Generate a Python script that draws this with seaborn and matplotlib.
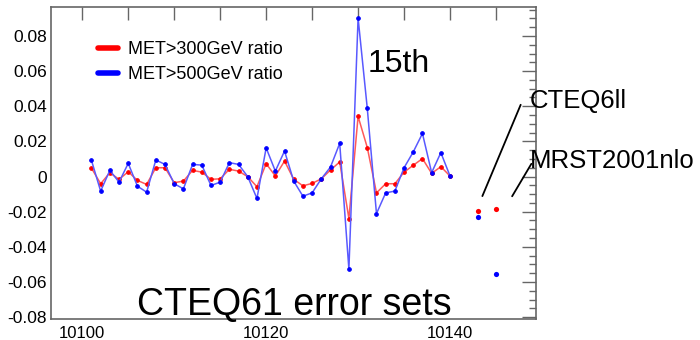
import numpy as np
import pandas as pd
import matplotlib
matplotlib.use("Agg")
import matplotlib.pyplot as plt
from matplotlib.lines import Line2D
from matplotlib.ticker import MultipleLocator
import seaborn as sns

# ---- data ----
error_sets = list(range(10101, 10141))
met300 = [0.0048, -0.0041, 0.0022, -0.0016, 0.0027, -0.0022, -0.0045, 0.0050, 0.0050, -0.0035,
          -0.0026, 0.0035, 0.0025, -0.0016, -0.0013, 0.0041, 0.0031, -0.0001, -0.0058, 0.0073,
          0.0003, 0.0088, -0.0016, -0.0053, -0.0039, -0.0013, 0.0037, 0.0083, -0.0239, 0.0342,
          0.0165, -0.0093, -0.0041, -0.0041, 0.0025, 0.0064, 0.0102, 0.0018, 0.0056, 0.0003]
met500 = [0.0092, -0.0083, 0.0035, -0.0032, 0.0075, -0.0055, -0.0089, 0.0094, 0.0069, -0.0041,
          -0.0070, 0.0069, 0.0065, -0.0051, -0.0032, 0.0079, 0.0069, -0.0001, -0.0125, 0.0163,
          0.0031, 0.0145, -0.0026, -0.0112, -0.0093, -0.0013, 0.0054, 0.0189, -0.0527, 0.0902,
          0.0388, -0.0211, -0.0093, -0.0083, 0.0050, 0.0140, 0.0245, 0.0022, 0.0136, 0.0003]
alt_sets = ["CTEQ6ll", "MRST2001nlo"]
alt_x = [10143, 10145]
alt_met300 = [-0.0198, -0.0184]
alt_met500 = [-0.0230, -0.0554]
legend_labels = ["MET>300GeV ratio", "MET>500GeV ratio"]

sns.set_style("white")
plt.rcParams["font.family"] = ["Liberation Sans", "DejaVu Sans"]
plt.rcParams["text.color"] = "black"
plt.rcParams["xtick.labelcolor"] = "black"
plt.rcParams["ytick.labelcolor"] = "black"

df = pd.DataFrame({"set": error_sets, "r300": met300, "r500": met500})
alt = pd.DataFrame({"x": alt_x, "r300": alt_met300, "r500": alt_met500})

fig = plt.figure(figsize=(7, 3.4), dpi=100)
ax = fig.add_axes([51 / 700, 1 - 319 / 340, 485 / 700, 312 / 340])

red_line = (1.0, 0.35, 0.35)
blue_line = (0.35, 0.35, 1.0)

sns.lineplot(data=df, x="set", y="r300", ax=ax, color=red_line, linewidth=1.1,
             marker="o", markersize=2.6, markerfacecolor="red", markeredgecolor="red")
sns.lineplot(data=df, x="set", y="r500", ax=ax, color=blue_line, linewidth=1.1,
             marker="o", markersize=2.6, markerfacecolor="blue", markeredgecolor="blue")
sns.scatterplot(data=alt, x="x", y="r300", ax=ax, color="red", s=14, linewidth=0)
sns.scatterplot(data=alt, x="x", y="r500", ax=ax, color="blue", s=14, linewidth=0)

ax.set_xlim(10096.6, 10149.35)
ax.set_ylim(-0.0811, 0.0965)
ax.set_xlabel("")
ax.set_ylabel("")

ax.xaxis.set_major_locator(MultipleLocator(20))
ax.xaxis.set_minor_locator(MultipleLocator(5))
ax.yaxis.set_major_locator(MultipleLocator(0.02))
ax.yaxis.set_minor_locator(MultipleLocator(0.005))
ax.yaxis.set_major_formatter(matplotlib.ticker.FuncFormatter(
    lambda v, p: "0" if abs(v) < 1e-9 else f"{v:.2f}"))
ax.xaxis.set_major_formatter(matplotlib.ticker.FuncFormatter(lambda v, p: f"{int(round(v))}"))

ax.tick_params(which="both", direction="in", top=True, right=True, color="#666666")
ax.tick_params(axis="y", which="major", length=10, width=1, labelsize=12.5, pad=3)
ax.tick_params(axis="y", which="minor", length=5, width=1)
ax.tick_params(axis="x", which="major", length=9, width=1, labelsize=12, pad=5)
ax.tick_params(axis="x", which="minor", length=9, width=1)
for s in ax.spines.values():
    s.set_color("#666666")
    s.set_linewidth(1.2)

handles = [Line2D([0], [0], color="red", lw=4), Line2D([0], [0], color="blue", lw=4)]
ax.legend(handles, legend_labels, loc="upper left", bbox_to_anchor=(0.097, 0.89),
          frameon=False, fontsize=13, handlelength=1.1, handletextpad=0.55,
          labelspacing=0.45, borderpad=0, borderaxespad=0)

ax.text(10131.0, 0.0638, "15th", fontsize=23, va="center", ha="left")
ax.text(10106.0, -0.0729, "CTEQ61 error sets", fontsize=27, va="center", ha="left")

ax.annotate("", xy=(10143.4, -0.0126), xytext=(10147.8, 0.0423),
            arrowprops=dict(arrowstyle="-", color="black", lw=1.3), annotation_clip=False)
ax.annotate("", xy=(10146.6, -0.0126), xytext=(10149.0, 0.0086),
            arrowprops=dict(arrowstyle="-", color="black", lw=1.3), annotation_clip=False)
ax.text(10148.7, 0.0429, alt_sets[0], fontsize=18.5, va="center", ha="left", clip_on=False)
ax.text(10148.7, 0.0091, alt_sets[1], fontsize=18.5, va="center", ha="left", clip_on=False)

fig.savefig("out.png", dpi=100)
